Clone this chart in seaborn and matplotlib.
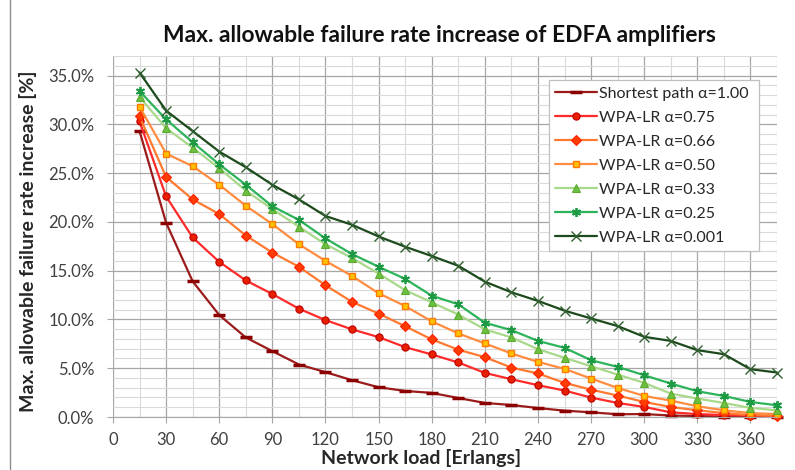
import matplotlib
matplotlib.use("Agg")
import matplotlib.pyplot as plt
import seaborn as sns
import numpy as np
import pandas as pd
from matplotlib.ticker import MultipleLocator, FuncFormatter

load = [15, 30, 45, 60, 75, 90, 105, 120, 135, 150, 165, 180, 195, 210, 225,
        240, 255, 270, 285, 300, 315, 330, 345, 360, 375]

shortest_100 = [29.3, 19.9, 13.9, 10.45, 8.15, 6.75, 5.38, 4.6, 3.77, 3.05, 2.67, 2.47, 1.95,
                1.44, 1.23, 0.92, 0.65, 0.48, 0.28, 0.3, 0.15, 0.1, 0.05, 0.05, 0.02]
wpa_075 = [30.3, 22.6, 18.4, 15.9, 14.0, 12.6, 11.1, 9.93, 8.98, 8.19, 7.16, 6.41, 5.59,
           4.52, 3.87, 3.26, 2.71, 1.99, 1.44, 1.03, 0.48, 0.3, 0.2, 0.15, 0.1]
wpa_066 = [30.8, 24.6, 22.3, 20.8, 18.6, 16.85, 15.4, 13.5, 11.8, 10.6, 9.3, 7.95, 6.9,
           6.13, 5.07, 4.46, 3.5, 2.8, 2.2, 1.54, 1.03, 0.69, 0.4, 0.2, 0.12]
wpa_050 = [31.8, 27.0, 25.7, 23.8, 21.65, 19.77, 17.7, 16.0, 14.45, 12.68, 11.37, 9.8, 8.57,
           7.54, 6.51, 5.65, 4.93, 3.94, 2.98, 2.16, 1.68, 1.1, 0.69, 0.4, 0.3]
wpa_033 = [32.8, 29.6, 27.6, 25.5, 23.2, 21.3, 19.5, 17.7, 16.3, 14.7, 13.0, 11.75, 10.5,
           8.98, 8.16, 6.95, 6.07, 5.2, 4.35, 3.5, 2.4, 1.89, 1.44, 0.93, 0.69]
wpa_025 = [33.4, 30.5, 28.15, 25.9, 23.8, 21.6, 20.2, 18.3, 16.7, 15.4, 14.15, 12.43, 11.55,
           9.66, 8.9, 7.8, 7.09, 5.82, 5.14, 4.28, 3.43, 2.64, 2.16, 1.54, 1.2]
wpa_0001 = [35.3, 31.4, 29.3, 27.2, 25.6, 23.8, 22.3, 20.6, 19.7, 18.5, 17.45, 16.5, 15.5,
            13.87, 12.78, 11.9, 10.9, 10.1, 9.32, 8.22, 7.8, 6.85, 6.44, 4.9, 4.56]

series_names = ["Shortest path \u03b1=1.00", "WPA-LR \u03b1=0.75", "WPA-LR \u03b1=0.66",
                "WPA-LR \u03b1=0.50", "WPA-LR \u03b1=0.33", "WPA-LR \u03b1=0.25",
                "WPA-LR \u03b1=0.001"]
series_values = [shortest_100, wpa_075, wpa_066, wpa_050, wpa_033, wpa_025, wpa_0001]

styles = [
    dict(color="#9B1B1B", marker="_", mfc="#8B0000", mec="#8B0000", ms=8, mew=2.5),
    dict(color="#FF2A2A", marker="o", mfc="#E82000", mec="#C00000", ms=5.2, mew=0.8),
    dict(color="#FF7A30", marker="D", mfc="#FF3C00", mec="#FF2000", ms=5.2, mew=0.8),
    dict(color="#FF8C40", marker="s", mfc="#FFC000", mec="#FF7A00", ms=5.0, mew=1.0),
    dict(color="#A8D88A", marker="^", mfc="#6CC040", mec="#5CAA30", ms=6.3, mew=0.8),
    dict(color="#2DB35A", marker=(6, 2, 0), mfc="#1E9A45", mec="#1E9A45", ms=6.5, mew=1.3),
    dict(color="#1C4A1C", marker="x", mfc="#2F5E2F", mec="#2F5E2F", ms=7, mew=1.0),
]

sns.set_style("white")
plt.rcParams['font.family'] = ['Lato', 'DejaVu Sans']

fig = plt.figure(figsize=(7.95, 4.70), dpi=100)
L, R, T, B = 113, 777, 56, 417
ax = fig.add_axes([L / 795, 1 - B / 470, (R - L) / 795, (B - T) / 470])

for name, vals, st in zip(series_names, series_values, styles):
    df = pd.DataFrame({"load": load, "val": vals})
    sns.lineplot(data=df, x="load", y="val", ax=ax, label=name,
                 color=st["color"], linewidth=1.6,
                 marker=st["marker"], markersize=st["ms"],
                 markerfacecolor=st["mfc"], markeredgecolor=st["mec"],
                 markeredgewidth=st["mew"], clip_on=False)

ax.set_xlim(0, 375)
ax.set_ylim(0, 37)
ax.xaxis.set_major_locator(MultipleLocator(30))
ax.xaxis.set_minor_locator(MultipleLocator(15))
ax.yaxis.set_major_locator(MultipleLocator(5))
ax.yaxis.set_minor_locator(MultipleLocator(1))
ax.yaxis.set_major_formatter(FuncFormatter(lambda v, p: f"{v:.1f}%"))
ax.grid(which="major", color="#A6A6A6", linewidth=0.9)
ax.grid(which="minor", color="#D9D9D9", linewidth=0.8)
ax.set_axisbelow(True)
for s in ["top", "right", "left"]:
    ax.spines[s].set_visible(False)
ax.spines["bottom"].set_color("#A6A6A6")
ax.tick_params(axis="both", which="major", labelsize=12, labelcolor="#404040",
               length=4.5, color="#A6A6A6", direction="out")
ax.tick_params(axis="x", which="major", bottom=True, pad=6)
ax.tick_params(axis="y", which="major", left=True, pad=9)

ax.set_xlabel("Network load [Erlangs]", fontsize=14, fontweight="bold", labelpad=1,
              x=(421 - L) / (R - L))
ax.set_ylabel("Max. allowable failure rate increase [%]", fontsize=14, fontweight="bold")
ax.yaxis.set_label_coords((37 - L) / (R - L), (B - 241) / (B - T))
fig.text(439 / 795, 1 - 36 / 470, "Max. allowable failure rate increase of EDFA amplifiers",
         ha="center", va="center", fontsize=16.4, fontweight="bold", color="#111111")

bx0 = (549 - L) / (R - L)
bx1 = (759 - L) / (R - L)
by0 = (B - 246) / (B - T)
by1 = (B - 80) / (B - T)
leg = ax.legend(loc="upper left", bbox_to_anchor=(bx0, by0, bx1 - bx0, by1 - by0),
                mode="expand", borderaxespad=0,
                fontsize=11.5, frameon=True, fancybox=False, edgecolor="#BFBFBF",
                framealpha=1, facecolor="white", handlelength=2.6, labelspacing=0.62,
                borderpad=0.4, handletextpad=0.1)
leg.get_frame().set_linewidth(0.9)

# outer chart border
fig.patches.append(plt.Rectangle((10 / 795, -0.01), 1.02, 1.02, transform=fig.transFigure,
                                 fill=False, edgecolor="#8C8C8C", linewidth=1.0))

fig.savefig("out.png", dpi=100)
